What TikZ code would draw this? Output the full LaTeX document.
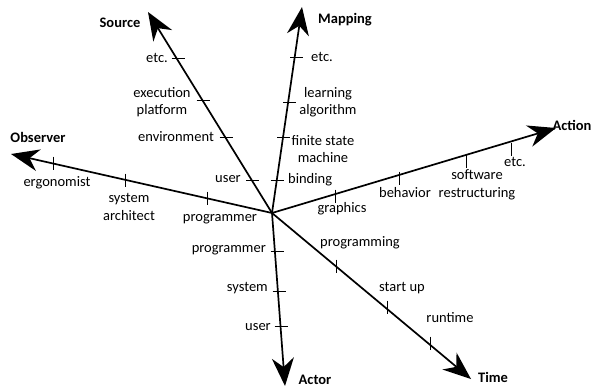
\documentclass[tikz,border=0pt]{standalone}
\usepackage{fontspec}
\setmainfont{Carlito}
\usetikzlibrary{arrows.meta}
\begin{document}
\begin{tikzpicture}[x=1pt,y=-1pt,
  axis/.style={line width=1.7pt, -{Stealth[length=28pt,width=22pt,inset=9pt]}},
  tickh/.style={line width=0.9pt},
  lbl/.style={font=\fontsize{14.5}{17.5}\selectfont, align=center, inner sep=0pt},
  ttl/.style={font=\fontsize{14.5}{17.5}\selectfont\bfseries, inner sep=0pt}]
\useasboundingbox (0,0) rectangle (594,388);
\coordinate (O) at (272,213);
% axis tips
\coordinate (src) at (148,12);
\coordinate (map) at (302,7);
\coordinate (act) at (556,128);
\coordinate (obs) at (11,154);
\coordinate (acr) at (285,386);
\coordinate (tim) at (471,379);
\draw[axis] (O) -- (src);
\draw[axis] (O) -- (map);
\draw[axis] (O) -- (act);
\draw[axis] (O) -- (obs);
\draw[axis] (O) -- (acr);
\draw[axis] (O) -- (tim);
% tick positions
\coordinate (s1) at (252.5,180);
\coordinate (s2) at (226,137);
\coordinate (s3) at (203,100);
\coordinate (s4) at (178,58);
\coordinate (m1) at (277,180);
\coordinate (m2) at (283.5,137);
\coordinate (m3) at (289.8,102);
\coordinate (m4) at (296.5,57);
\coordinate (a1) at (335,196);
\coordinate (a2) at (399,178);
\coordinate (a3) at (466,161);
\coordinate (a4) at (511,149);
\coordinate (o1) at (207,198);
\coordinate (o2) at (125,180);
\coordinate (o3) at (53,163);
\coordinate (c1) at (277,251);
\coordinate (c2) at (279,291);
\coordinate (c3) at (281,326);
\coordinate (t1) at (336,266);
\coordinate (t2) at (387,307);
\coordinate (t3) at (430,343);
% horizontal ticks
\foreach \p in {s1,s2,s3,s4,m1,m2,m3,m4,c1,c2,c3}
  \draw[tickh] (\p) +(-6.5,0) -- +(6.5,0);
% vertical ticks
\foreach \p in {a1,a2,a3,a4,o1,o2,o3,t1,t2,t3}
  \draw[tickh] (\p) +(0,-6.5) -- +(0,6.5);
% axis titles
\node[ttl] (Tsrc) at (120,23) {Source};
\node[ttl] (Tmap) at (345,20) {Mapping};
\node[ttl] (Tact) at (572,125) {Action};
\node[ttl] (Tobs) at (38,137) {Observer};
\node[ttl] (Tacr) at (315,380) {Actor};
\node[ttl] (Ttim) at (493,377) {Time};
% Source labels
\node[lbl,anchor=east] (ls1) at (241,179) {user};
\node[lbl] (ls2) at (176,137) {environment};
\node[lbl] (ls3) at (162,102) {execution\\platform};
\node[lbl,anchor=east] (ls4) at (168,58) {etc.};
% Mapping labels
\node[lbl,anchor=west] (lm1) at (288,180) {binding};
\node[lbl] (lm2) at (323,149) {finite state\\machine};
\node[lbl] (lm3) at (328,102) {learning\\algorithm};
\node[lbl,anchor=west] (lm4) at (311,57) {etc.};
% Action labels
\node[lbl] (la1) at (342,209) {graphics};
\node[lbl] (la2) at (405,193) {behavior};
\node[lbl] (la3) at (477,185) {software\\restructuring};
\node[lbl] (la4) at (515,162) {etc.};
% Observer labels
\node[lbl] (lo1) at (220,219) {programmer};
\node[lbl] (lo2) at (129,207) {system\\architect};
\node[lbl] (lo3) at (57,183) {ergonomist};
% Actor labels
\node[lbl,anchor=east] (lc1) at (266,250) {programmer};
\node[lbl,anchor=east] (lc2) at (268,288) {system};
\node[lbl,anchor=east] (lc3) at (271,327) {user};
% Time labels
\node[lbl] (lt1) at (360,243) {programming};
\node[lbl] (lt2) at (402,288) {start up};
\node[lbl] (lt3) at (450,318) {runtime};
\end{tikzpicture}
\end{document}
